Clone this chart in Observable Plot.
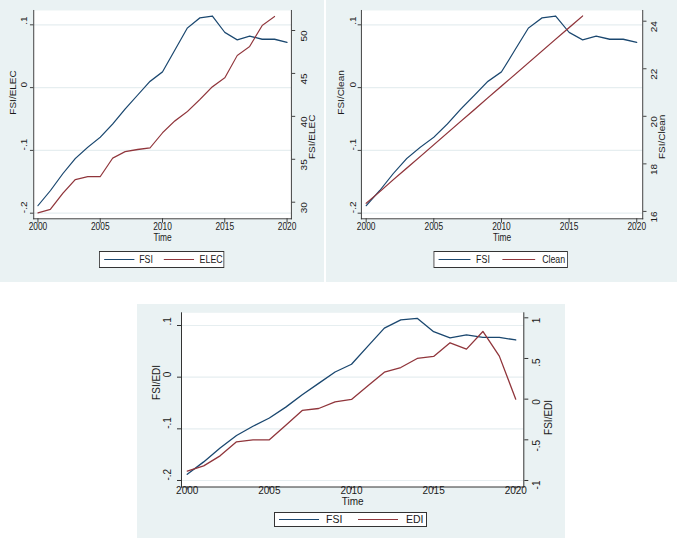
<!DOCTYPE html>
<html><head><meta charset="utf-8">
<script src="https://cdn.jsdelivr.net/npm/d3@7"></script>
<script src="https://cdn.jsdelivr.net/npm/@observablehq/plot@0.6"></script>
<style>
html,body{margin:0;padding:0;background:#fff;overflow:hidden}
#root{position:relative;width:677px;height:538px;font-family:"Liberation Sans",Arial,Helvetica,sans-serif;}
.panel{position:absolute;background:#eaf2f3;overflow:hidden}
.inner{position:absolute;left:0;top:0;transform-origin:0 0}
.inner svg{position:absolute;left:0;top:0}
.legend{position:absolute;background:#fff;border:1px solid #333;box-sizing:border-box}
.legend .sw{position:absolute;top:50%;height:0;border-top:1.3px solid;margin-top:-0.6px}
.legend .lt{position:absolute;top:0;white-space:nowrap;color:#1a1a1a}
</style></head>
<body><div id="root"></div>
<script>
// ---- data ----
const years = [2000,2001,2002,2003,2004,2005,2006,2007,2008,2009,2010,2011,2012,2013,2014,2015,2016,2017,2018,2019,2020];
const fsi = [-0.188,-0.164,-0.137,-0.113,-0.095,-0.079,-0.058,-0.034,-0.012,0.010,0.025,0.060,0.095,0.111,0.114,0.088,0.076,0.082,0.077,0.077,0.072];
const elecYears = [2000,2001,2002,2003,2004,2005,2006,2007,2008,2009,2010,2011,2012,2013,2014,2015,2016,2017,2018,2019];
const elec = [28.76,29.18,31.05,32.64,32.99,32.99,35.13,35.90,36.14,36.33,38.08,39.48,40.56,41.96,43.44,44.49,47.09,48.14,50.58,51.63];
const cleanYears = [2000,2001,2002,2003,2004,2005,2006,2007,2008,2009,2010,2011,2012,2013,2014,2015,2016];
const clean = [16.34,16.83,17.33,17.82,18.31,18.80,19.30,19.79,20.28,20.78,21.27,21.76,22.25,22.75,23.24,23.73,24.22];
const edi = [-0.885,-0.82,-0.697,-0.525,-0.50,-0.50,-0.32,-0.139,-0.115,-0.033,-0.004,0.164,0.332,0.389,0.50,0.525,0.693,0.615,0.832,0.529,0.0];

const yearTicks = [2000,2005,2010,2015,2020];
const fsiTicks = [-0.2,-0.1,0,0.1];
const fsiTickLabels = ["-.2","-.1","0",".1"];
const elecTicks = [30,35,40,45,50];
const elecTickLabels = ["30","35","40","45","50"];
const cleanTicks = [16,18,20,22,24];
const cleanTickLabels = ["16","18","20","22","24"];
const ediTicks = [-1,-0.5,0,0.5,1];
const ediTickLabels = ["-1","-.5","0",".5","1"];
const xTitle = "Time";

// ---- styles ----
const NAVY = "#1a476f", MAROON = "#90353b", AXIS = "#333", GRID = "#e6eef0", TXT = "#1a1a1a";
const FONT = '"Liberation Sans",Arial,Helvetica,sans-serif';

const rows = (xs, vs) => xs.map((x, i) => ({year: x, value: vs[i]}));

const panels = [
  {left:0, top:0, w:324, h:282, S:0.84, fs:10, plotL:33.3, plotR:291, plotT:10, plotB:218.3,
   xDomain:[1999.66,2020.35], yDomain:[-0.2089,0.1228], rDomain:[28.07,52.33],
   title:"FSI/ELEC", sec:rows(elecYears, elec), rTicks:elecTicks, rLabels:elecTickLabels,
   lLab:9.6, lTitle:20, rLab:12.5, rTitle:21, xLab:11, timeDy:22, xTick:4.5,
   legend:{box:[99.3,250.7,224,268.3], items:[[NAVY,103.3,133.3,138.3,"FSI"],[MAROON,163.3,193.3,198.8,"ELEC"]]}},
  {left:326, top:0, w:351, h:282, S:0.84, fs:10, plotL:361, plotR:642.3, plotT:10, plotB:218.3,
   xDomain:[1999.65,2020.44], yDomain:[-0.2089,0.1228], rDomain:[15.69,24.45],
   title:"FSI/Clean", sec:rows(cleanYears, clean), rTicks:cleanTicks, rLabels:cleanTickLabels,
   lLab:8.3, lTitle:20.5, rLab:12, rTitle:19.5, xLab:11, timeDy:22, xTick:4.5,
   legend:{box:[433.7,251,568,268.3], items:[[NAVY,438,469.5,475.3,"FSI"],[MAROON,501.5,534.5,541.3,"Clean"]]}},
  {left:137, top:304, w:428, h:234, S:1, fs:10, plotL:181, plotR:523.3, plotT:312.3, plotB:486.5,
   xDomain:[1999.65,2020.49], yDomain:[-0.2126,0.1246], rDomain:[-1.080,1.0615],
   title:"FSI/EDI", sec:rows(years, edi), rTicks:ediTicks, rLabels:ediTickLabels,
   lLab:14, lTitle:25, rLab:13.3, rTitle:24.6, xLab:6.6, timeDy:17.6, xTick:3,
   legend:{box:[274,511.7,426.7,526.7], items:[[NAVY,278.3,318.3,325,"FSI"],[MAROON,356.7,396.7,405,"EDI"]]}}
];

const fsiRows = rows(years, fsi);
const root = document.getElementById("root");

for (const c of panels) {
  const S = c.S;
  const W = c.w / S, H = c.h;
  const mL = (c.plotL - c.left) / S, mR = (c.left + c.w - c.plotR) / S;
  const mT = c.plotT - c.top, mB = c.top + c.h - c.plotB;
  const panel = document.createElement("div");
  panel.className = "panel";
  Object.assign(panel.style, {left: c.left + "px", top: c.top + "px", width: c.w + "px", height: c.h + "px"});
  const inner = document.createElement("div");
  inner.className = "inner";
  Object.assign(inner.style, {width: W + "px", height: H + "px", transform: `scaleX(${S})`});
  panel.appendChild(inner);
  root.appendChild(panel);

  const common = {
    width: W, height: H, marginLeft: mL, marginRight: mR, marginTop: mT, marginBottom: mB,
    style: {background: "transparent", fontFamily: FONT, color: TXT},
    x: {domain: c.xDomain, axis: null}
  };

  const a = Plot.plot({
    ...common,
    y: {domain: c.yDomain, axis: null},
    marks: [
      Plot.frame({fill: "white", stroke: "none"}),
      Plot.gridY(fsiTicks, {stroke: GRID, strokeOpacity: 1, strokeWidth: 1.2}),
      Plot.line(fsiRows, {x: "year", y: "value", stroke: NAVY, strokeWidth: 1.3}),
      Plot.frame({anchor: "left", stroke: AXIS}),
      Plot.frame({anchor: "bottom", stroke: AXIS}),
      Plot.axisY(fsiTicks, {anchor: "left", tickSize: 4, tickFormat: () => "", stroke: AXIS, label: null}),
      Plot.axisX(yearTicks, {anchor: "bottom", tickSize: c.xTick, tickFormat: () => "", stroke: AXIS, label: null}),
      Plot.text(fsiTicks, {y: d => d, text: (d, i) => fsiTickLabels[i], frameAnchor: "left", dx: -c.lLab / S, rotate: -90, fontSize: c.fs, fill: TXT}),
      Plot.text(yearTicks, {x: d => d, text: d => String(d), frameAnchor: "bottom", dy: c.xLab, fontSize: c.fs, fill: TXT}),
      Plot.text([c.title], {text: d => d, frameAnchor: "left", dx: -c.lTitle / S, rotate: -90, fontSize: c.fs, fill: TXT}),
      Plot.text([xTitle], {text: d => d, frameAnchor: "bottom", dy: c.timeDy, fontSize: c.fs, fill: TXT})
    ]
  });

  const b = Plot.plot({
    ...common,
    y: {domain: c.rDomain, axis: null},
    marks: [
      Plot.line(c.sec, {x: "year", y: "value", stroke: MAROON, strokeWidth: 1.3}),
      Plot.frame({anchor: "right", stroke: AXIS}),
      Plot.axisY(c.rTicks, {anchor: "right", tickSize: 4, tickFormat: () => "", stroke: AXIS, label: null}),
      Plot.text(c.rTicks, {y: d => d, text: (d, i) => c.rLabels[i], frameAnchor: "right", dx: c.rLab / S, rotate: -90, fontSize: c.fs, fill: TXT}),
      Plot.text([c.title], {text: d => d, frameAnchor: "right", dx: c.rTitle / S, rotate: -90, fontSize: c.fs, fill: TXT})
    ]
  });
  inner.appendChild(a);
  inner.appendChild(b);

  // legend
  const [bx0, by0, bx1, by1] = c.legend.box;
  const lg = document.createElement("div");
  lg.className = "legend";
  Object.assign(lg.style, {left: (bx0 - c.left) / S + "px", top: (by0 - c.top) + "px", width: (bx1 - bx0) / S + "px", height: (by1 - by0) + "px"});
  for (const [col, x0, x1, tx, lab] of c.legend.items) {
    const sw = document.createElement("div");
    sw.className = "sw";
    Object.assign(sw.style, {left: (x0 - bx0) / S + "px", width: (x1 - x0) / S + "px", borderTopColor: col});
    const t = document.createElement("div");
    t.className = "lt";
    t.textContent = lab;
    Object.assign(t.style, {left: (tx - bx0) / S + "px", lineHeight: (by1 - by0 - 2) + "px", fontSize: (c.fs + 0.5) + "px"});
    lg.appendChild(sw);
    lg.appendChild(t);
  }
  inner.appendChild(lg);
}
</script>
</body></html>
